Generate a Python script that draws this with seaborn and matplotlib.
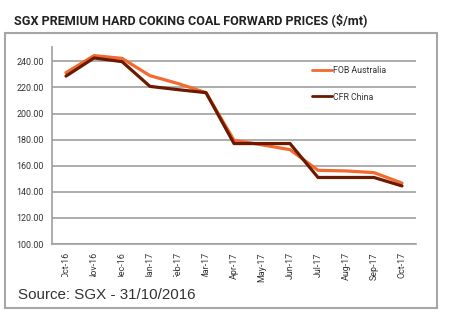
import matplotlib
matplotlib.use("Agg")
import matplotlib.pyplot as plt
from matplotlib.patches import Rectangle
import seaborn as sns
import pandas as pd

months = ["Oct-16", "Nov-16", "Dec-16", "Jan-17", "Feb-17", "Mar-17", "Apr-17",
          "May-17", "Jun-17", "Jul-17", "Aug-17", "Sep-17", "Oct-17"]
fob_australia = [231.3, 244.4, 242.3, 229.0, 223.0, 216.0, 179.5, 176.0, 172.3, 156.5, 156.0, 154.7, 146.7]
cfr_china = [228.7, 242.6, 239.8, 220.8, 218.3, 216.0, 177.0, 177.0, 177.0, 151.0, 151.0, 151.0, 144.5]
series_names = ["FOB Australia", "CFR China"]
yticks = [100, 120, 140, 160, 180, 200, 220, 240]

df = pd.DataFrame({
    "month": months * 2,
    "price": fob_australia + cfr_china,
    "series": [series_names[0]] * len(months) + [series_names[1]] * len(months),
})

sns.set_style("white")
plt.rcParams["font.family"] = ["Roboto", "DejaVu Sans"]

W, H = 455, 324
fig = plt.figure(figsize=(W / 100, H / 100), dpi=100)
ax = fig.add_axes([52 / W, 1 - 244 / H, (416 - 52) / W, (244 - 47) / H])

palette = {series_names[0]: "#F26A30", series_names[1]: "#6B1A00"}
sns.lineplot(data=df, x="month", y="price", hue="series", palette=palette,
             sort=False, linewidth=2.3, ax=ax, legend=False)

ax.set_xlim(-0.5, len(months) - 0.5)
ax.set_ylim(100, 251)
ax.set_yticks(yticks)
ax.set_yticklabels([f"{v:.2f}" for v in yticks])
ax.set_xticks(range(len(months)))
ax.set_xticklabels(months, rotation=90)
ax.tick_params(axis="both", labelsize=6.4, colors="#333333", length=0, pad=6)
ax.tick_params(axis="y", length=3, color="#A0A0A0", width=1.2, pad=3)
ax.set_xlabel("")
ax.set_ylabel("")
ax.grid(axis="y", color="#A0A0A0", linewidth=1.2)
ax.grid(axis="x", visible=False)
for s in ["top", "right"]:
    ax.spines[s].set_visible(False)
for s in ["left", "bottom"]:
    ax.spines[s].set_color("#A0A0A0")
    ax.spines[s].set_linewidth(1.2)

handles = ax.get_lines()[:2]
leg = ax.legend(handles, series_names, loc="upper left",
                bbox_to_anchor=(312 / W, 1 - 66 / H), bbox_transform=fig.transFigure,
                frameon=False, fontsize=6.3, handlelength=2.3, handletextpad=0.05,
                labelspacing=2.0, borderpad=0, borderaxespad=0)
for t in leg.get_texts():
    t.set_color("#333333")
for l in leg.get_lines():
    l.set_linewidth(2.0)

fig.text(14 / W, 1 - 20 / H, "SGX PREMIUM HARD COKING COAL FORWARD PRICES ($/mt)",
         fontsize=9.1, fontweight="bold", color="#222222", va="center", ha="left")

fig.patches.append(Rectangle((8 / W, 1 - 306 / H), 207 / W, 29 / H,
                             transform=fig.transFigure, facecolor="white",
                             edgecolor="none", zorder=5))
fig.text(18 / W, 1 - 295 / H, "Source: SGX - 31/10/2016", fontsize=10.9,
         family=["Liberation Sans", "DejaVu Sans"], color="#333333",
         va="center", ha="left", zorder=6)
fig.patches.append(Rectangle((5 / W, 1 - 308 / H), 432 / W, 275 / H,
                             transform=fig.transFigure, fill=False,
                             edgecolor="#A6A6A6", linewidth=1.5, zorder=7))

fig.savefig("out.png", dpi=100, facecolor="white")
